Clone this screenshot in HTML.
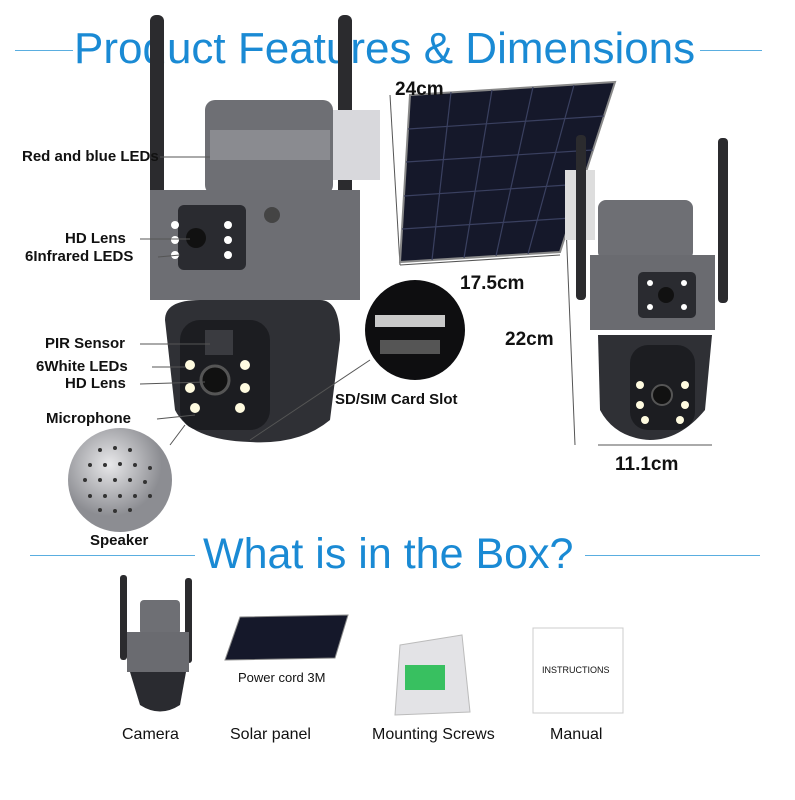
<!DOCTYPE html>
<html><head><meta charset="utf-8"><style>
body{margin:0;background:#fff;}
#c{position:relative;width:795px;height:800px;overflow:hidden;font-family:"Liberation Sans",sans-serif;background:#fff}
.t{position:absolute;white-space:nowrap;color:#111}
.b{font-weight:bold}
.title{position:absolute;color:#1a8ad4;font-size:44px;white-space:nowrap}
.ln{position:absolute;height:1px;background:#5aaee0}
.a{position:absolute}
</style></head><body><div id="c">
<div class="ln" style="left:15px;top:50px;width:58px"></div>
<div class="ln" style="left:700px;top:50px;width:62px"></div>
<div class="title" style="left:74px;top:24px">Product Features &amp; Dimensions</div>

<svg class="a" style="left:0;top:0" width="795" height="800">
<rect x="150" y="15" width="14" height="185" rx="6" fill="#2b2b2e"/>
<rect x="338" y="15" width="14" height="230" rx="6" fill="#2b2b2e"/>
<rect x="330" y="110" width="50" height="70" fill="#d8d8dc"/>
<rect x="205" y="100" width="128" height="95" rx="10" fill="#6e6f74"/>
<rect x="210" y="130" width="120" height="30" fill="#8a8b90"/>
<polygon points="150,190 360,190 360,300 150,300" fill="#6d6e73"/>
<rect x="178" y="205" width="68" height="65" rx="6" fill="#2a2b30"/>
<circle cx="196" cy="238" r="10" fill="#111"/>
<circle cx="175" cy="240" r="4" fill="#fff"/><circle cx="175" cy="225" r="4" fill="#fff"/><circle cx="175" cy="255" r="4" fill="#fff"/>
<circle cx="228" cy="225" r="4" fill="#fff"/><circle cx="228" cy="255" r="4" fill="#fff"/><circle cx="228" cy="240" r="4" fill="#fff"/>
<circle cx="272" cy="215" r="8" fill="#444"/>
<path d="M165,320 Q165,300 200,300 L320,300 Q340,300 340,340 L330,420 Q300,445 250,442 Q190,440 175,410 Z" fill="#2f3035"/>
<rect x="180" y="320" width="90" height="110" rx="20" fill="#1c1d21"/>
<rect x="205" y="330" width="28" height="25" fill="#3a3b40"/>
<circle cx="215" cy="380" r="14" fill="#111" stroke="#555" stroke-width="3"/>
<circle cx="190" cy="365" r="5" fill="#fffbe0"/><circle cx="190" cy="388" r="5" fill="#fffbe0"/><circle cx="195" cy="408" r="5" fill="#fffbe0"/>
<circle cx="245" cy="365" r="5" fill="#fffbe0"/><circle cx="245" cy="388" r="5" fill="#fffbe0"/><circle cx="240" cy="408" r="5" fill="#fffbe0"/>
<defs><radialGradient id="g" cx="40%" cy="35%"><stop offset="0" stop-color="#e8e8ea"/><stop offset="1" stop-color="#8c8d92"/></radialGradient></defs>
<circle cx="120" cy="480" r="52" fill="url(#g)"/>
<g fill="#333">
<circle cx="100" cy="450" r="2"/><circle cx="115" cy="448" r="2"/><circle cx="130" cy="450" r="2"/><circle cx="90" cy="465" r="2"/><circle cx="105" cy="465" r="2"/><circle cx="120" cy="464" r="2"/><circle cx="135" cy="465" r="2"/><circle cx="150" cy="468" r="2"/><circle cx="85" cy="480" r="2"/><circle cx="100" cy="480" r="2"/><circle cx="115" cy="480" r="2"/><circle cx="130" cy="480" r="2"/><circle cx="145" cy="482" r="2"/><circle cx="90" cy="496" r="2"/><circle cx="105" cy="496" r="2"/><circle cx="120" cy="496" r="2"/><circle cx="135" cy="496" r="2"/><circle cx="150" cy="496" r="2"/><circle cx="100" cy="510" r="2"/><circle cx="115" cy="511" r="2"/><circle cx="130" cy="510" r="2"/></g>
<g stroke="#555" stroke-width="1" fill="none">
<line x1="160" y1="157" x2="210" y2="157"/><line x1="140" y1="239" x2="190" y2="239"/><line x1="158" y1="257" x2="180" y2="255"/>
<line x1="140" y1="344" x2="210" y2="344"/><line x1="152" y1="367" x2="185" y2="367"/><line x1="140" y1="384" x2="205" y2="382"/>
<line x1="157" y1="419" x2="195" y2="415"/><line x1="170" y1="445" x2="185" y2="425"/><line x1="250" y1="440" x2="370" y2="360"/>
<line x1="400" y1="265" x2="560" y2="255"/><line x1="390" y1="95" x2="400" y2="265"/><line x1="565" y1="200" x2="575" y2="445"/><line x1="598" y1="445" x2="712" y2="445"/>
</g>
<polygon points="410,95 615,82 560,252 400,262" fill="#15182a" stroke="#888" stroke-width="2"/>
<g stroke="#3a4060" stroke-width="1.2">
<line x1="451" y1="92" x2="432" y2="260"/><line x1="492" y1="90" x2="464" y2="258"/><line x1="533" y1="87" x2="496" y2="256"/><line x1="574" y1="85" x2="528" y2="254"/>
<line x1="408" y1="129" x2="604" y2="116"/><line x1="406" y1="162" x2="593" y2="150"/><line x1="404" y1="196" x2="582" y2="184"/><line x1="402" y1="229" x2="571" y2="218"/>
</g>
<rect x="565" y="170" width="30" height="70" fill="#ddd"/>
<circle cx="415" cy="330" r="50" fill="#0e0e10"/>
<rect x="375" y="315" width="70" height="12" fill="#c9c9c9"/>
<rect x="380" y="340" width="60" height="14" fill="#555"/>
<rect x="576" y="135" width="10" height="165" rx="4" fill="#2b2b2e"/>
<rect x="718" y="138" width="10" height="165" rx="4" fill="#2b2b2e"/>
<rect x="598" y="200" width="95" height="60" rx="8" fill="#6e6f74"/>
<rect x="590" y="255" width="125" height="75" fill="#6a6b70"/>
<rect x="638" y="272" width="58" height="46" rx="5" fill="#2a2b30"/>
<circle cx="666" cy="295" r="8" fill="#111"/>
<circle cx="650" cy="283" r="3" fill="#fff"/><circle cx="650" cy="307" r="3" fill="#fff"/><circle cx="684" cy="283" r="3" fill="#fff"/><circle cx="684" cy="307" r="3" fill="#fff"/>
<path d="M598,335 L712,335 L705,410 Q680,440 650,440 Q615,438 600,410 Z" fill="#2f3035"/>
<rect x="630" y="345" width="65" height="85" rx="18" fill="#1c1d21"/>
<circle cx="662" cy="395" r="10" fill="#111" stroke="#555" stroke-width="2"/>
<circle cx="640" cy="385" r="4" fill="#fffbe0"/><circle cx="640" cy="405" r="4" fill="#fffbe0"/><circle cx="685" cy="385" r="4" fill="#fffbe0"/><circle cx="685" cy="405" r="4" fill="#fffbe0"/><circle cx="645" cy="420" r="4" fill="#fffbe0"/><circle cx="680" cy="420" r="4" fill="#fffbe0"/>
<rect x="120" y="575" width="7" height="85" rx="3" fill="#2b2b2e"/><rect x="185" y="578" width="7" height="85" rx="3" fill="#2b2b2e"/>
<rect x="140" y="600" width="40" height="35" rx="4" fill="#6e6f74"/>
<rect x="127" y="632" width="62" height="40" fill="#6a6b70"/>
<path d="M130,672 L186,672 L180,705 Q160,718 140,705 Z" fill="#2a2b30"/>
<polygon points="240,617 348,615 335,658 225,660" fill="#15182a" stroke="#888"/>
<polygon points="400,645 462,635 470,712 395,715" fill="#e3e3e6" stroke="#bbb"/>
<rect x="405" y="665" width="40" height="25" fill="#38c060"/>
<rect x="533" y="628" width="90" height="85" fill="#fff" stroke="#ccc"/>
</svg>

<div class="t b" style="left:22px;top:148px;font-size:15px">Red and blue LEDs</div>
<div class="t b" style="left:65px;top:230px;font-size:15px">HD Lens</div>
<div class="t b" style="left:25px;top:248px;font-size:15px">6Infrared LEDS</div>
<div class="t b" style="left:45px;top:335px;font-size:15px">PIR Sensor</div>
<div class="t b" style="left:36px;top:358px;font-size:15px">6White LEDs</div>
<div class="t b" style="left:65px;top:375px;font-size:15px">HD Lens</div>
<div class="t b" style="left:46px;top:410px;font-size:15px">Microphone</div>
<div class="t b" style="left:90px;top:532px;font-size:15px">Speaker</div>
<div class="t b" style="left:335px;top:391px;font-size:15px">SD/SIM Card Slot</div>
<div class="t b" style="left:395px;top:79px;font-size:19px">24cm</div>
<div class="t b" style="left:460px;top:273px;font-size:19px">17.5cm</div>
<div class="t b" style="left:505px;top:329px;font-size:19px">22cm</div>
<div class="t b" style="left:615px;top:454px;font-size:19px">11.1cm</div>

<div class="ln" style="left:30px;top:555px;width:165px"></div>
<div class="ln" style="left:585px;top:555px;width:175px"></div>
<div class="title" style="left:203px;top:530px;font-size:43px">What is in the Box?</div>

<div class="t" style="left:238px;top:670px;font-size:13px">Power cord 3M</div>
<div class="t" style="left:542px;top:665px;font-size:9px">INSTRUCTIONS</div>
<div class="t" style="left:122px;top:726px;font-size:16px">Camera</div>
<div class="t" style="left:230px;top:726px;font-size:16px">Solar panel</div>
<div class="t" style="left:372px;top:726px;font-size:16px">Mounting Screws</div>
<div class="t" style="left:550px;top:726px;font-size:16px">Manual</div>
</div></body></html>
